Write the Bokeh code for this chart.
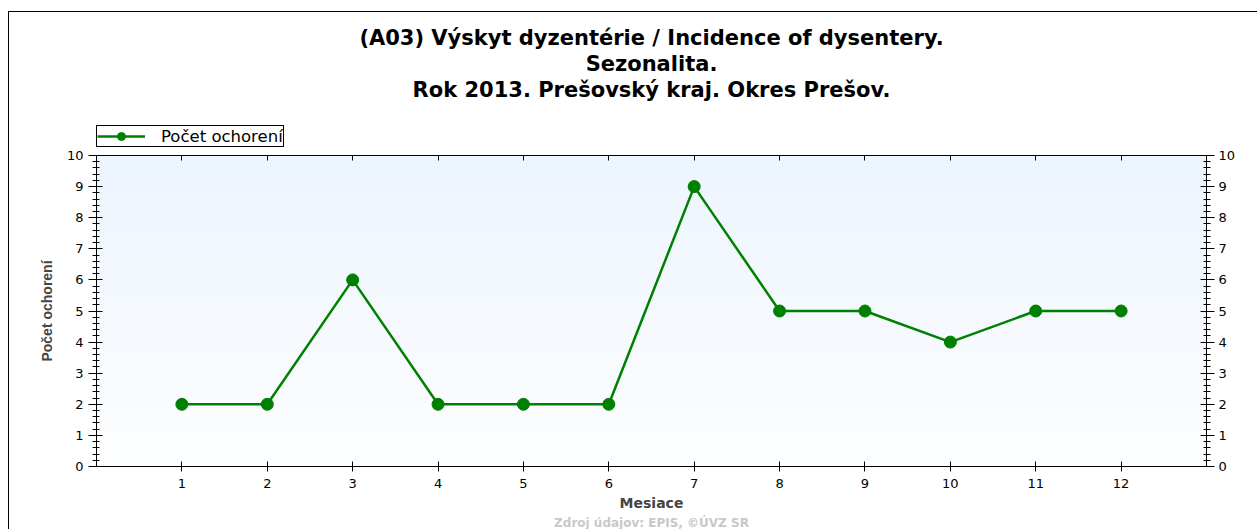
import numpy as np
from bokeh.plotting import figure
from bokeh.layouts import column
from bokeh.models import (LinearAxis, FixedTicker, SingleIntervalTicker, Title,
                          Legend, LegendItem, Range1d)
from bokeh.embed import file_html
from bokeh.resources import INLINE

# ---- data ----
months = [1, 2, 3, 4, 5, 6, 7, 8, 9, 10, 11, 12]
cases = [2, 2, 6, 2, 2, 2, 9, 5, 5, 4, 5, 5]
title_lines = ["(A03) Výskyt dyzentérie / Incidence of dysentery.",
               "Sezonalita.",
               "Rok 2013. Prešovský kraj. Okres Prešov."]
series_name = "Počet ochorení"
x_label = "Mesiace"
y_label = "Počet ochorení"
source_note = "Zdroj údajov: EPIS, ©ÚVZ SR"

FONT = "DejaVu Sans"
GREEN = "#008000"
W = 1257

# ---------------- header (titles + legend) ----------------
# the header's ranges keep its copy of the series out of view; it only feeds the legend
h = figure(width=W, height=147, x_range=Range1d(100, 101), y_range=Range1d(100, 101),
           output_backend="svg", toolbar_location=None,
           min_border_left=0, min_border_right=0, min_border_bottom=0,
           min_border_top=101, x_axis_location=None, y_axis_location=None)
h.grid.visible = False
h.outline_line_color = None
h.background_fill_color = None
h.border_fill_color = None
for line in reversed(title_lines):
    h.add_layout(Title(text=line, align="center", text_font=FONT,
                       text_font_style="bold", text_font_size="21px",
                       text_color="black", standoff=0, offset=-12), "above")
lg_line = h.line(months, cases, line_color=GREEN, line_width=2.5)
lg_pts = h.scatter(months, cases, size=12, fill_color=GREEN, line_color=GREEN)
legend = Legend(items=[LegendItem(label=series_name, renderers=[lg_line, lg_pts])],
                location=(0, 0), margin=0, padding=0, spacing=0,
                border_line_color="black", border_line_width=1, border_line_alpha=1,
                label_text_font=FONT, label_text_font_size="16.5px",
                label_text_color="black", label_height=20,
                glyph_width=48, glyph_height=20, label_standoff=16,
                background_fill_color="white", background_fill_alpha=1)
h.add_layout(legend, "center")

# ---------------- main chart ----------------
p = figure(width=W, height=382, x_range=Range1d(0, 13), y_range=Range1d(0, 10),
           output_backend="svg", toolbar_location=None,
           min_border_left=96, min_border_right=51, min_border_top=8,
           min_border_bottom=63, x_axis_location=None, y_axis_location=None)
p.grid.visible = False
p.outline_line_color = "black"
p.background_fill_color = "white"
p.border_fill_color = None

# background gradient of plot area
n = 200
top = np.array([237, 245, 254], dtype=float)
bot = np.array([253, 254, 255], dtype=float)
t = np.linspace(0, 1, n)[:, None]  # row 0 bottom
cols = bot + (top - bot) * t
img = np.zeros((n, 2), dtype=np.uint32)
view = img.view(dtype=np.uint8).reshape((n, 2, 4))
view[:, :, 0] = cols[:, 0:1].astype(np.uint8)
view[:, :, 1] = cols[:, 1:2].astype(np.uint8)
view[:, :, 2] = cols[:, 2:3].astype(np.uint8)
view[:, :, 3] = 255
p.image_rgba(image=[img], x=0, y=0, dw=13, dh=10)

line_r = p.line(months, cases, line_color=GREEN, line_width=2.5)
pts_r = p.scatter(months, cases, size=12, fill_color=GREEN, line_color=GREEN)

yt = SingleIntervalTicker(interval=1, num_minor_ticks=5)
xt = FixedTicker(ticks=months)

def style(ax):
    ax.axis_line_color = "black"
    ax.major_tick_line_color = "black"
    ax.minor_tick_line_color = "black"
    ax.major_label_text_font = FONT
    ax.major_label_text_font_size = "13px"
    ax.major_label_text_color = "black"

left = LinearAxis(ticker=yt, axis_label=y_label)
style(left)
left.major_tick_out = 8
left.major_tick_in = 6
left.minor_tick_out = 4
left.minor_tick_in = 3
left.major_label_standoff = 5
left.axis_label_text_font = "Liberation Sans"
left.axis_label_text_font_style = "bold"
left.axis_label_text_font_size = "14px"
left.axis_label_standoff = 9
p.add_layout(left, "left")

right = LinearAxis(ticker=yt)
style(right)
right.major_tick_out = 8
right.major_tick_in = 6
right.minor_tick_out = 4
right.minor_tick_in = 3
right.major_label_standoff = 4
p.add_layout(right, "right")

bottom = LinearAxis(ticker=xt, axis_label=x_label)
style(bottom)
bottom.major_tick_out = 5
bottom.major_tick_in = 5
bottom.minor_tick_line_color = None
bottom.axis_label_text_font = FONT
bottom.axis_label_text_font_style = "bold"
bottom.axis_label_text_font_size = "14px"
bottom.axis_label_standoff = 4
bottom.major_label_standoff = 7
p.add_layout(bottom, "below")

topax = LinearAxis(ticker=xt)
style(topax)
topax.major_tick_out = 0
topax.major_tick_in = 5
topax.minor_tick_line_color = None
topax.major_label_text_color = None
topax.major_label_text_font_size = "0px"
topax.major_label_standoff = 0
p.add_layout(topax, "above")

p.add_layout(Title(text=source_note, align="center", text_color="#c8c8c8",
                   text_font=FONT, text_font_style="bold", text_font_size="12px",
                   standoff=0, offset=-12), "below")

layout = column(h, p, spacing=0, styles={
    "background-color": "white",
    "background-image": "linear-gradient(#000, #000), linear-gradient(#000, #000)",
    "background-size": "1px 600px, 1400px 1px",
    "background-position": "8px 11px, 8px 11px",
    "background-repeat": "no-repeat",
})
open("out.html", "w").write(file_html(layout, INLINE))
